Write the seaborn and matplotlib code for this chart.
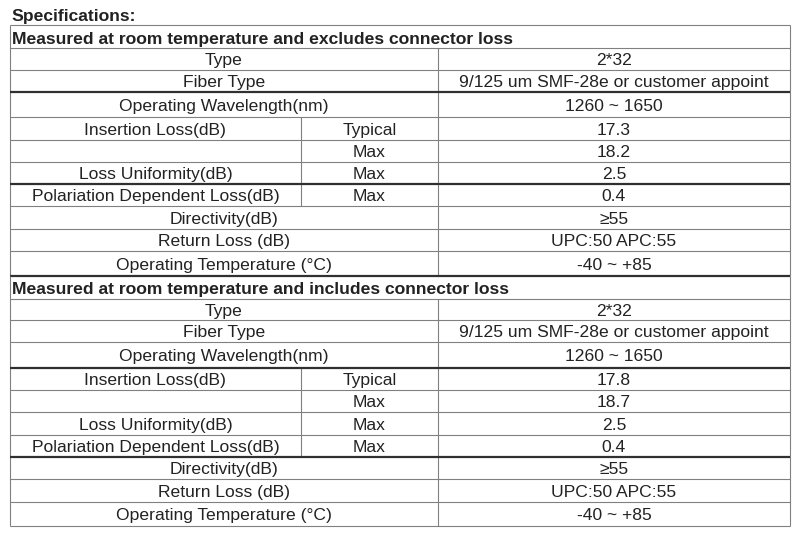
import matplotlib
matplotlib.use("Agg")
import matplotlib.pyplot as plt
import seaborn as sns

# ---------------- data ----------------
title = "Specifications:"
section_titles = [
    "Measured at room temperature and excludes connector loss",
    "Measured at room temperature and includes connector loss",
]
param_labels = [
    "Type", "Fiber Type", "Operating Wavelength(nm)", "Insertion Loss(dB)", "",
    "Loss Uniformity(dB)", "Polariation Dependent Loss(dB)", "Directivity(dB)",
    "Return Loss (dB)", "Operating Temperature (°C)",
]
sub_labels = [None, None, None, "Typical", "Max", "Max", "Max", None, None, None]
values_excl = [
    "2*32", "9/125 um SMF-28e or customer appoint", "1260 ~ 1650", "17.3", "18.2",
    "2.5", "0.4", "≥55", "UPC:50 APC:55", "-40 ~ +85",
]
values_incl = [
    "2*32", "9/125 um SMF-28e or customer appoint", "1260 ~ 1650", "17.8", "18.7",
    "2.5", "0.4", "≥55", "UPC:50 APC:55", "-40 ~ +85",
]

# ---------------- layout ----------------
sns.set_theme(style="white")
plt.rcParams["font.family"] = ["Liberation Sans", "DejaVu Sans"]

W, H = 802, 537
fig = plt.figure(figsize=(W / 100, H / 100), dpi=100)
ax = fig.add_axes([0, 0, 1, 1])
ax.set_xlim(0, W)
ax.set_ylim(H, 0)
ax.axis("off")

FS = 12.6
TXT = "#222222"
GRID = "#808080"
DARK = "#303030"
LW = 0.8
LWT = 1.6
BOFF = 6.3  # baseline offset from row centre

XL, XM, XV, XR = 10, 301, 438, 790

sections = [
    dict(top=25, head=47.5,
         rows=[47.5, 69.5, 91.5, 117, 139.5, 161.5, 184, 206, 228.5, 250.5, 276],
         thick=[1, 5, 9], values=values_excl, title=section_titles[0]),
    dict(top=276, head=298.5,
         rows=[298.5, 320, 342, 368, 390, 412, 434.5, 457, 479, 501.5, 526],
         thick=[2, 6], values=values_incl, title=section_titles[1]),
]

ax.text(XL + 1, 20.7, title, fontsize=FS, fontweight="bold", color=TXT,
        ha="left", va="baseline")

for si, sec in enumerate(sections):
    rows = sec["rows"]
    # header
    hoff = 1.2 if si == 0 else 0.0
    ax.text(XL + 1.5, (sec["top"] + sec["head"]) / 2 + BOFF + hoff, sec["title"],
            fontsize=FS, fontweight="bold", color=TXT, ha="left", va="baseline")
    if si == 0:
        ax.hlines(sec["top"], XL, XR, color=GRID, lw=LW)
    ax.hlines(sec["head"], XL, XR, color=GRID, lw=LW)
    # outer verticals
    ax.vlines([XL, XR], sec["top"], rows[-1], color=GRID, lw=LW)
    ax.vlines(XV, rows[0], rows[-1], color=GRID, lw=LW)
    # sub column divider spans Insertion Loss .. PDL rows
    ax.vlines(XM, rows[3], rows[7], color=GRID, lw=LW)
    for i in range(len(param_labels)):
        y0, y1 = rows[i], rows[i + 1]
        yb = (y0 + y1) / 2 + BOFF
        lw, col = (LWT, DARK) if i in sec["thick"] else (LW, GRID)
        ax.hlines(y1, XL, XR, color=col, lw=lw)
        if sub_labels[i] is None:
            ax.text((XL + XV) / 2, yb, param_labels[i], fontsize=FS, color=TXT,
                    ha="center", va="baseline")
        else:
            ax.text((XL + XM) / 2, yb, param_labels[i], fontsize=FS, color=TXT,
                    ha="center", va="baseline")
            ax.text((XM + XV) / 2, yb, sub_labels[i], fontsize=FS, color=TXT,
                    ha="center", va="baseline")
        ax.text((XV + XR) / 2, yb, sec["values"][i], fontsize=FS, color=TXT,
                ha="center", va="baseline")

fig.savefig("out.png", dpi=100, facecolor="white")
